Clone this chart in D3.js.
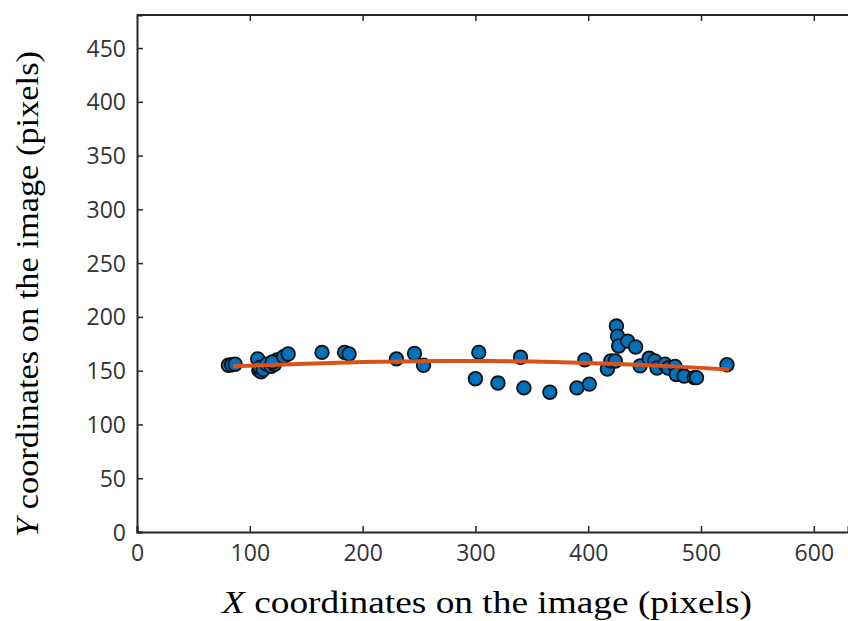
<!DOCTYPE html>
<html>
<head>
<meta charset="utf-8">
<script src="https://cdn.jsdelivr.net/npm/d3@7"></script>
<style>
  body { margin: 0; background: #fff; }
  svg { display: block; }
</style>
</head>
<body>
<div id="chart"></div>
<script>
// measured points (x, y in image pixels)
var ptX = [81, 84, 87, 107, 108, 110, 109, 112, 115, 119, 122, 124, 120, 130, 134,
           164, 184, 188, 230, 246, 254, 300, 303, 320, 340, 343, 366, 390, 397, 401,
           417, 420, 424, 425, 426, 427, 435, 442, 446, 454, 459, 461, 468, 471, 477,
           478, 485, 494, 496, 523];
var ptY = [155, 155.5, 156, 161, 150.5, 149, 153, 151, 156, 154, 156, 160, 158, 163, 165.5,
           167, 167, 165.5, 161, 166, 155, 142.5, 167, 138.5, 162.5, 134, 130, 134, 160, 137.5,
           151.5, 159, 159, 191.5, 182, 173, 177.5, 172, 154.5, 161.5, 159, 152.5, 156, 152.5, 154,
           146.5, 145, 143.5, 143.5, 155.5];

// fitted curve
var fitX = [85, 150, 200, 250, 300, 350, 400, 450, 500, 525];
var fitY = [154, 156.5, 158, 158.8, 159, 158.6, 157.2, 155.2, 152.6, 151];

var xTicks = [0, 100, 200, 300, 400, 500, 600];
var yTicks = [0, 50, 100, 150, 200, 250, 300, 350, 400, 450];

var w = 848, h = 621;
var mLeft = 137, mTop = 15, mRight = 848, mBottom = 532;

var svg = d3.select("#chart").append("svg")
    .attr("width", w)
    .attr("height", h);

var x = d3.scaleLinear().domain([0, 630.3]).range([mLeft, mRight]);
var y = d3.scaleLinear().domain([0, 480.7]).range([mBottom, mTop]);

// axes (ticks point inward)
var xAxis = svg.append("g")
    .attr("transform", "translate(0," + mBottom + ")")
    .call(d3.axisBottom(x).tickValues(xTicks).tickSize(-6).tickPadding(12));
var xTop = svg.append("g")
    .attr("transform", "translate(0," + mTop + ")")
    .call(d3.axisTop(x).tickValues(xTicks.slice(1)).tickSize(-6).tickFormat(""));
var yAxis = svg.append("g")
    .attr("transform", "translate(" + mLeft + ",0)")
    .call(d3.axisLeft(y).tickValues(yTicks).tickSize(-6).tickPadding(11));

[xAxis, xTop, yAxis].forEach(function(g){
    g.select(".domain").attr("stroke", "#262626").attr("stroke-width", 2);
    g.selectAll(".tick line").attr("stroke", "#262626").attr("stroke-width", 1.5);
    g.selectAll(".tick text")
        .attr("fill", "#333")
        .style("font-family", "'Open Sans', 'Noto Sans', sans-serif")
        .style("font-size", "23px");
});
xAxis.selectAll(".tick text").attr("dy", "0.75em");
yAxis.selectAll(".tick text").attr("dy", "0.35em");
// top domain: plain line across
xTop.select(".domain").attr("d", "M" + mLeft + ",0H" + mRight);

// fitted line
var line = d3.line()
    .x(function(d, i){ return x(fitX[i]); })
    .y(function(d, i){ return y(fitY[i]); })
    .curve(d3.curveMonotoneX);

// points
svg.selectAll("circle")
    .data(ptX)
    .enter()
    .append("circle")
    .attr("cx", function(d){ return x(d); })
    .attr("cy", function(d, i){ return y(ptY[i]); })
    .attr("r", 6.8)
    .attr("fill", "#0072BD")
    .attr("stroke", "#111")
    .attr("stroke-width", 1.8);

svg.append("path")
    .datum(fitX)
    .attr("d", line)
    .attr("fill", "none")
    .attr("stroke", "#D95319")
    .attr("stroke-width", 4);

// titles
var xt = svg.append("text")
    .attr("x", 487)
    .attr("y", 613)
    .attr("text-anchor", "middle")
    .attr("textLength", 530)
    .attr("lengthAdjust", "spacingAndGlyphs")
    .style("font-family", "'Liberation Serif', 'DejaVu Serif', serif")
    .style("font-size", "32px")
    .attr("fill", "#000");
xt.append("tspan").style("font-style", "italic").text("X");
xt.append("tspan").text(" coordinates on the image (pixels)");

var yt = svg.append("text")
    .attr("transform", "translate(38,294) rotate(-90)")
    .attr("text-anchor", "middle")
    .attr("textLength", 486)
    .attr("lengthAdjust", "spacingAndGlyphs")
    .style("font-family", "'Liberation Serif', 'DejaVu Serif', serif")
    .style("font-size", "32px")
    .attr("fill", "#000");
yt.append("tspan").style("font-style", "italic").text("Y");
yt.append("tspan").text(" coordinates on the image (pixels)");
</script>
</body>
</html>
